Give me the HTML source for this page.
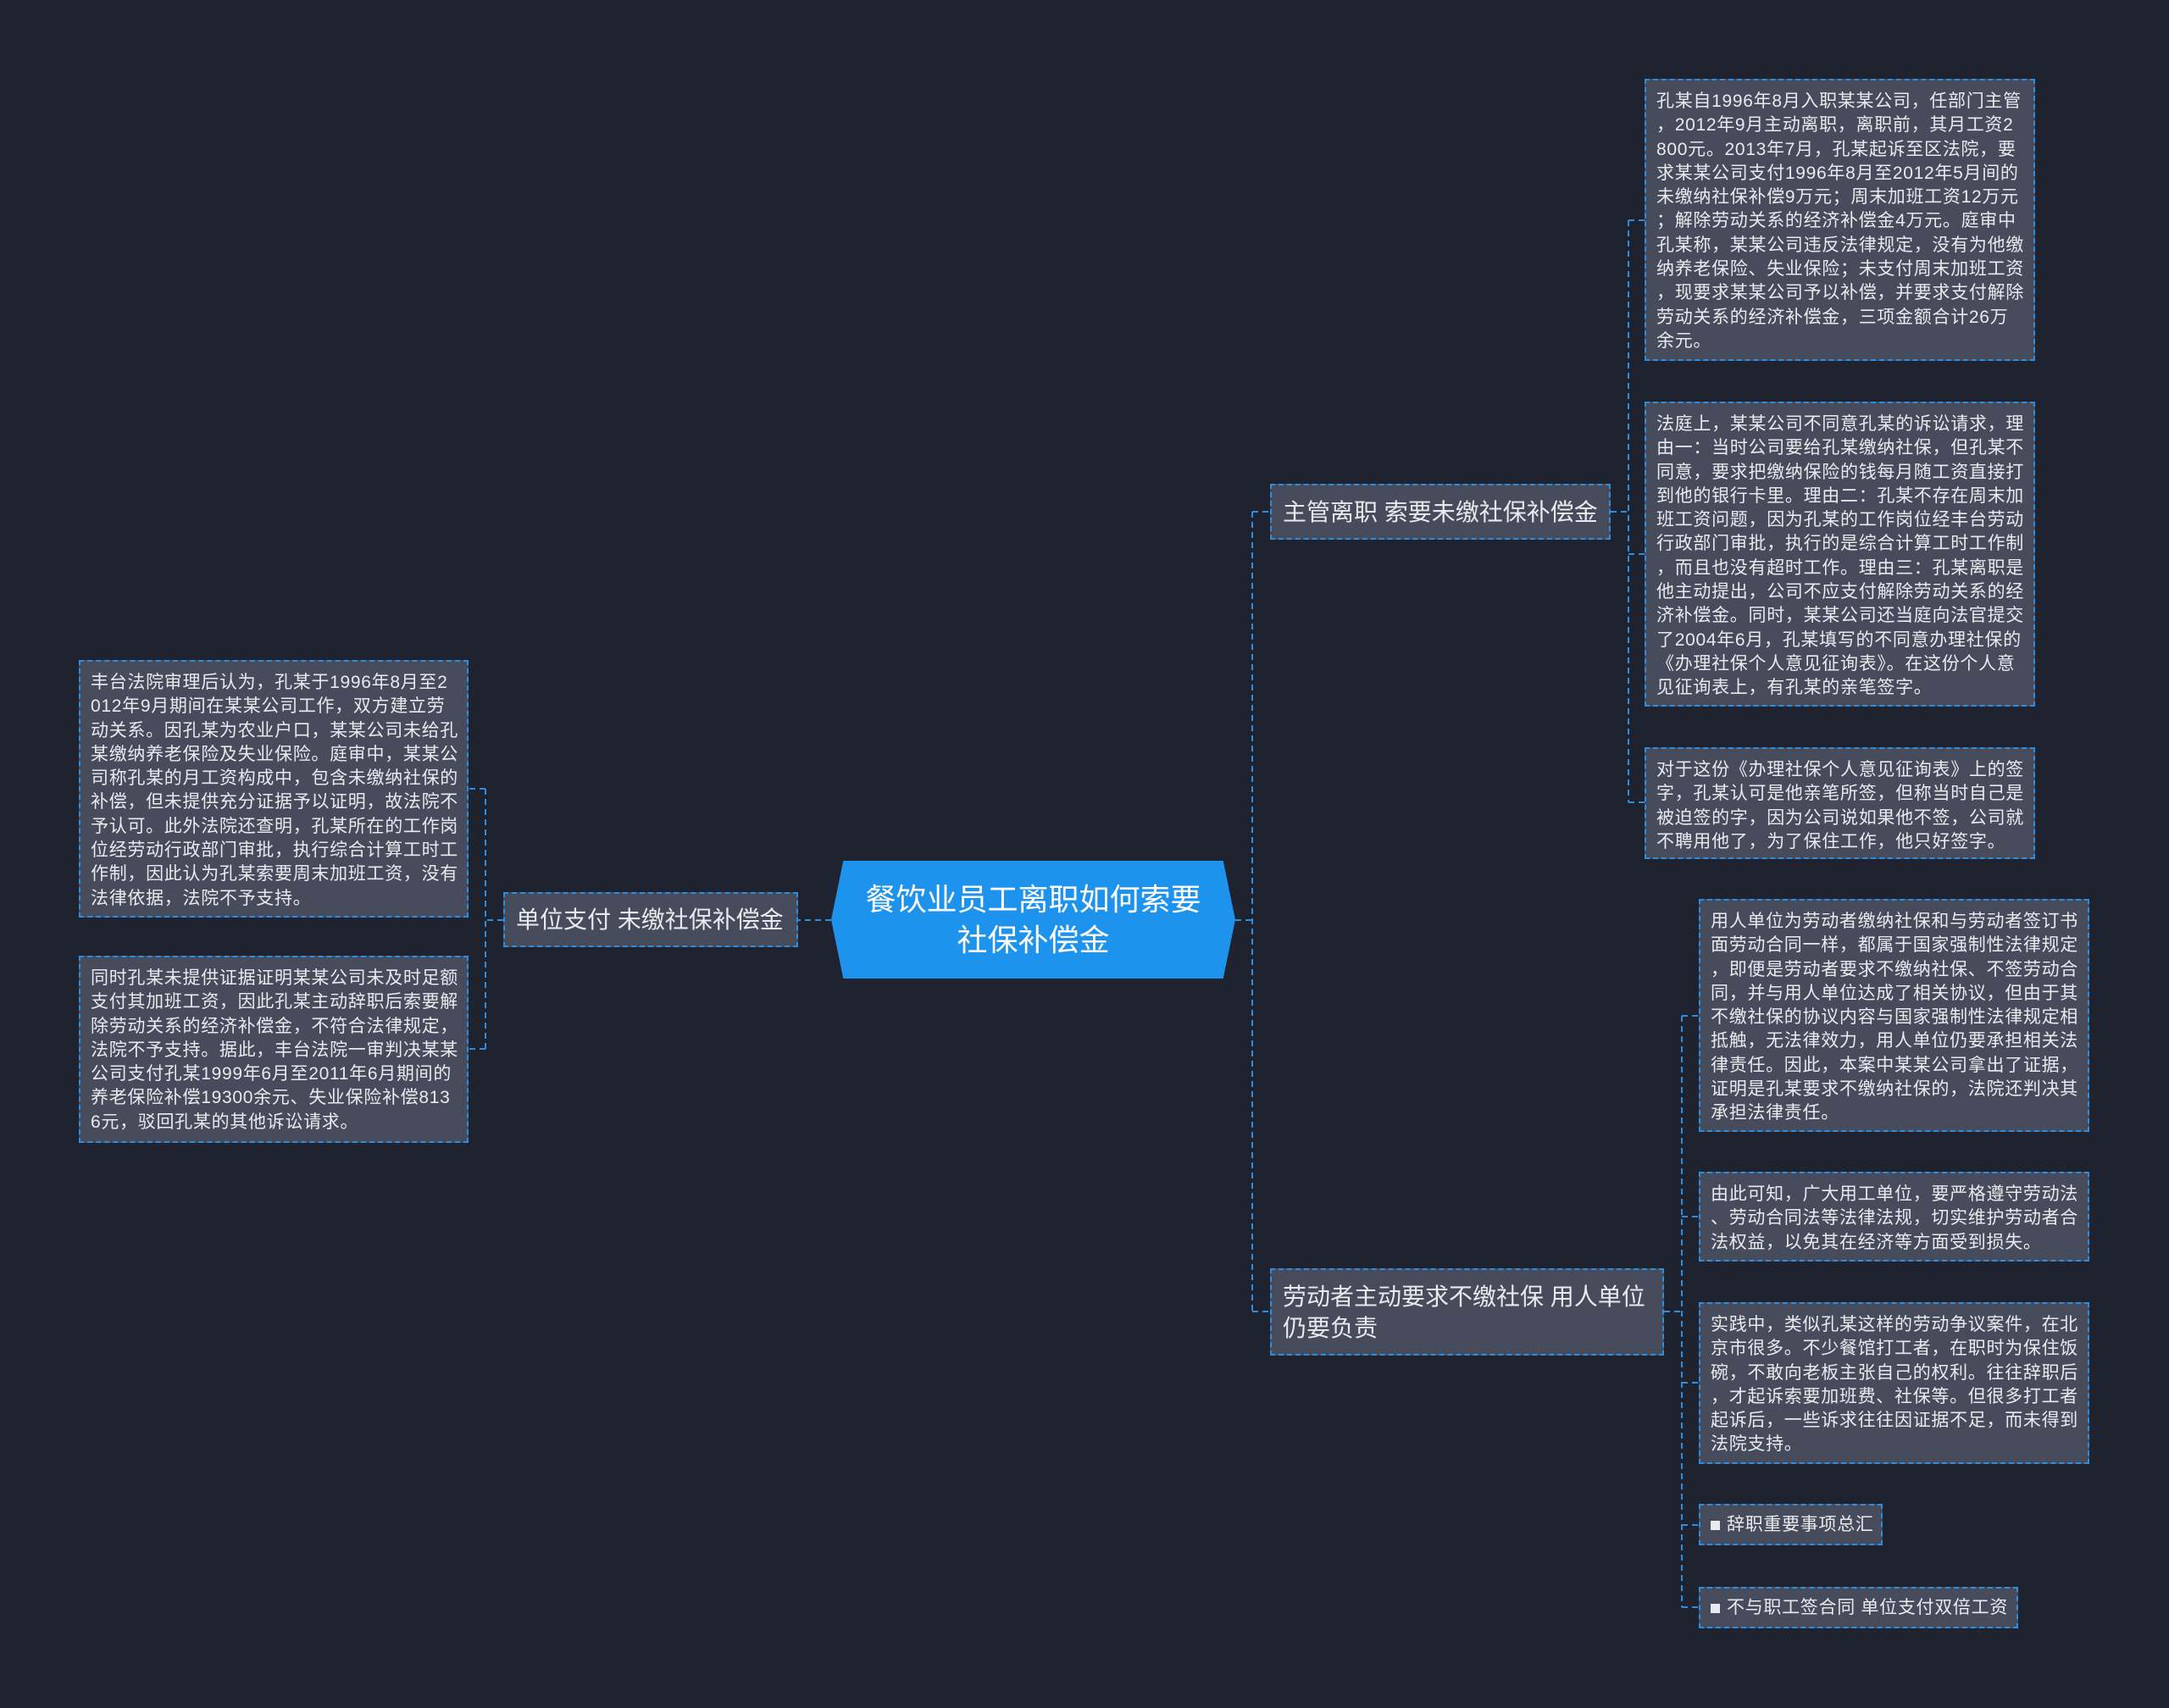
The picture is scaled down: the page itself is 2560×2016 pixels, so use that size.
<!DOCTYPE html>
<html><head><meta charset="utf-8"><style>
html,body{margin:0;padding:0;}
body{width:2560px;height:2016px;background:#1f2330;position:relative;overflow:hidden;font-family:"Liberation Sans","Noto Sans CJK SC",sans-serif;}
.b{position:absolute;box-sizing:border-box;background:#464c5b;border:2px dashed #2f8de0;color:#e8eaee;}
.leaf{font-size:21px;line-height:28.3px;padding:11px 12px;white-space:nowrap;letter-spacing:0.7px;}
.l1{font-size:28px;line-height:37px;padding:0 13px;display:flex;align-items:center;white-space:nowrap;}
.c{position:absolute;left:981px;top:1016px;width:477px;height:139px;background:#1d93ee;color:#fff;font-size:36px;line-height:48px;text-align:center;display:flex;align-items:center;justify-content:center;clip-path:polygon(3% 0,97% 0,100% 50%,97% 100%,3% 100%,0 50%);}
.sq{display:inline-block;width:11px;height:11px;background:#e8eaee;margin-right:8px;vertical-align:middle;}
</style></head><body>
<svg width="2560" height="2016" style="position:absolute;left:0;top:0" fill="none" stroke="#2f8de0" stroke-width="2" stroke-dasharray="7,5">
<path d="M1458 1086 H1478 M1478 604 V1548 M1478 604 H1499 M1478 1548 H1499"/>
<path d="M981 1086 H942 M594 1086 H573 M573 931 V1238 M573 931 H553 M573 1238 H553"/>
<path d="M1901 604 H1922 M1922 260 V947 M1922 260 H1941 M1922 654 H1941 M1922 947 H1941"/>
<path d="M1964 1548 H1985 M1985 1199 V1897 M1985 1199 H2005 M1985 1436 H2005 M1985 1632 H2005 M1985 1800 H2005 M1985 1897 H2005"/>
</svg>
<div class="c">餐饮业员工离职如何索要<br>社保补偿金</div>
<div class="b l1" style="left:1499px;top:571px;width:402px;height:66px;">主管离职 索要未缴社保补偿金</div>
<div class="b l1" style="left:594px;top:1053px;width:348px;height:65px;">单位支付 未缴社保补偿金</div>
<div class="b l1" style="left:1499px;top:1497px;width:465px;height:103px;line-height:37px;">劳动者主动要求不缴社保 用人单位<br>仍要负责</div>

<div class="b leaf" style="left:1941px;top:93px;width:461px;height:333px;">孔某自1996年8月入职某某公司，任部门主管<br>，2012年9月主动离职，离职前，其月工资2<br>800元。2013年7月，孔某起诉至区法院，要<br>求某某公司支付1996年8月至2012年5月间的<br>未缴纳社保补偿9万元；周末加班工资12万元<br>；解除劳动关系的经济补偿金4万元。庭审中<br>孔某称，某某公司违反法律规定，没有为他缴<br>纳养老保险、失业保险；未支付周末加班工资<br>，现要求某某公司予以补偿，并要求支付解除<br>劳动关系的经济补偿金，三项金额合计26万<br>余元。</div>
<div class="b leaf" style="left:1941px;top:474px;width:461px;height:360px;">法庭上，某某公司不同意孔某的诉讼请求，理<br>由一：当时公司要给孔某缴纳社保，但孔某不<br>同意，要求把缴纳保险的钱每月随工资直接打<br>到他的银行卡里。理由二：孔某不存在周末加<br>班工资问题，因为孔某的工作岗位经丰台劳动<br>行政部门审批，执行的是综合计算工时工作制<br>，而且也没有超时工作。理由三：孔某离职是<br>他主动提出，公司不应支付解除劳动关系的经<br>济补偿金。同时，某某公司还当庭向法官提交<br>了2004年6月，孔某填写的不同意办理社保的<br>《办理社保个人意见征询表》。在这份个人意<br>见征询表上，有孔某的亲笔签字。</div>
<div class="b leaf" style="left:1941px;top:882px;width:461px;height:132px;">对于这份《办理社保个人意见征询表》上的签<br>字，孔某认可是他亲笔所签，但称当时自己是<br>被迫签的字，因为公司说如果他不签，公司就<br>不聘用他了，为了保住工作，他只好签字。</div>

<div class="b leaf" style="left:93px;top:779px;width:460px;height:304px;">丰台法院审理后认为，孔某于1996年8月至2<br>012年9月期间在某某公司工作，双方建立劳<br>动关系。因孔某为农业户口，某某公司未给孔<br>某缴纳养老保险及失业保险。庭审中，某某公<br>司称孔某的月工资构成中，包含未缴纳社保的<br>补偿，但未提供充分证据予以证明，故法院不<br>予认可。此外法院还查明，孔某所在的工作岗<br>位经劳动行政部门审批，执行综合计算工时工<br>作制，因此认为孔某索要周末加班工资，没有<br>法律依据，法院不予支持。</div>
<div class="b leaf" style="left:93px;top:1128px;width:460px;height:221px;">同时孔某未提供证据证明某某公司未及时足额<br>支付其加班工资，因此孔某主动辞职后索要解<br>除劳动关系的经济补偿金，不符合法律规定，<br>法院不予支持。据此，丰台法院一审判决某某<br>公司支付孔某1999年6月至2011年6月期间的<br>养老保险补偿19300余元、失业保险补偿813<br>6元，驳回孔某的其他诉讼请求。</div>

<div class="b leaf" style="left:2005px;top:1061px;width:461px;height:275px;">用人单位为劳动者缴纳社保和与劳动者签订书<br>面劳动合同一样，都属于国家强制性法律规定<br>，即便是劳动者要求不缴纳社保、不签劳动合<br>同，并与用人单位达成了相关协议，但由于其<br>不缴社保的协议内容与国家强制性法律规定相<br>抵触，无法律效力，用人单位仍要承担相关法<br>律责任。因此，本案中某某公司拿出了证据，<br>证明是孔某要求不缴纳社保的，法院还判决其<br>承担法律责任。</div>
<div class="b leaf" style="left:2005px;top:1383px;width:461px;height:106px;">由此可知，广大用工单位，要严格遵守劳动法<br>、劳动合同法等法律法规，切实维护劳动者合<br>法权益，以免其在经济等方面受到损失。</div>
<div class="b leaf" style="left:2005px;top:1537px;width:461px;height:191px;">实践中，类似孔某这样的劳动争议案件，在北<br>京市很多。不少餐馆打工者，在职时为保住饭<br>碗，不敢向老板主张自己的权利。往往辞职后<br>，才起诉索要加班费、社保等。但很多打工者<br>起诉后，一些诉求往往因证据不足，而未得到<br>法院支持。</div>
<div class="b leaf" style="left:2005px;top:1775px;width:217px;height:49px;padding-top:9px;"><span class="sq"></span>辞职重要事项总汇</div>
<div class="b leaf" style="left:2005px;top:1873px;width:377px;height:49px;padding-top:9px;"><span class="sq"></span>不与职工签合同 单位支付双倍工资</div>
</body></html>
